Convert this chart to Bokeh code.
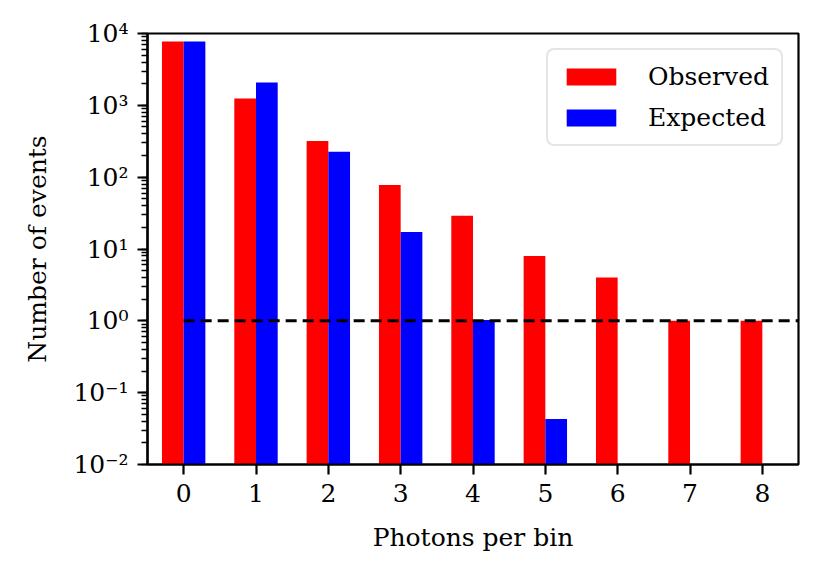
from bokeh.plotting import figure
from bokeh.models import Range1d, LogTicker, FixedTicker, Legend, LegendItem
from bokeh.embed import file_html
from bokeh.resources import INLINE

# ---- data ----
photons = [0, 1, 2, 3, 4, 5, 6, 7, 8]
observed = [7730, 1240, 318, 78, 29, 8, 4, 1, 1]
expected_photons = [0, 1, 2, 3, 4, 5]
expected = [7730, 2075, 226, 17.3, 1.03, 0.043]
threshold_x = [0, 9]
threshold_y = [1, 1]
y_ticks = [1e-2, 1e-1, 1, 10, 100, 1000, 10000]
y_tick_labels = ["10\u207b\u00b2", "10\u207b\u00b9", "10\u2070", "10\u00b9", "10\u00b2", "10\u00b3", "10\u2074"]
x_label = "Photons per bin"
y_label = "Number of events"

FONT = "DejaVu Serif"
FS = "25px"
BAR_W = 0.3

p = figure(width=823, height=563, y_axis_type="log",
           x_range=Range1d(-0.5, 8.5), y_range=Range1d(1e-2, 1e4),
           output_backend="svg", toolbar_location=None,
           min_border_left=147, min_border_right=25,
           min_border_top=33, min_border_bottom=99)

p.xgrid.visible = False
p.ygrid.visible = False
p.outline_line_color = "black"
p.outline_line_width = 2.2
p.outline_line_alpha = 1.0

obs_x = [x - BAR_W / 2 for x in photons]
exp_x = [x + BAR_W / 2 for x in expected_photons]
r_obs = p.vbar(x=obs_x, top=observed, bottom=1e-3, width=BAR_W,
               fill_color="#ff0000", line_color=None)
r_exp = p.vbar(x=exp_x, top=expected, bottom=1e-3, width=BAR_W,
               fill_color="#0000ff", line_color=None)

p.line(threshold_x, threshold_y, line_color="black", line_width=3, line_dash="11 6")

# axes
p.xaxis.ticker = FixedTicker(ticks=photons, minor_ticks=[])
p.yaxis.ticker = LogTicker(num_minor_ticks=10)
p.yaxis.major_label_overrides = {t: l for t, l in zip(y_ticks, y_tick_labels)}
for ax in (p.xaxis, p.yaxis):
    ax.axis_line_width = 2.2
    ax.axis_line_color = "black"
    ax.major_tick_line_color = "black"
    ax.minor_tick_line_color = "black"
    ax.major_tick_line_width = 2.2
    ax.minor_tick_line_width = 1.7
    ax.major_tick_out = 10
    ax.major_tick_in = 0
    ax.minor_tick_out = 6
    ax.minor_tick_in = 0
    ax.major_label_text_font = FONT
    ax.major_label_text_font_size = FS
    ax.major_label_text_color = "black"
    ax.axis_label_text_font = FONT
    ax.axis_label_text_font_size = FS
    ax.axis_label_text_font_style = "normal"
    ax.axis_label_text_color = "black"
    ax.major_label_standoff = 9

p.xaxis.axis_label = x_label
p.yaxis.axis_label = y_label
p.xaxis.axis_label_standoff = 18
p.yaxis.axis_label_standoff = 18

legend = Legend(items=[LegendItem(label="Observed", renderers=[r_obs]),
                       LegendItem(label="Expected", renderers=[r_exp])],
                location="top_right")
legend.margin = 15
legend.padding = 12
legend.spacing = 12
legend.glyph_width = 62
legend.glyph_height = 21
legend.label_standoff = 26
legend.label_text_font = FONT
legend.label_text_font_size = FS
legend.label_text_color = "black"
legend.border_line_color = "#cccccc"
legend.border_line_width = 2.5
legend.background_fill_alpha = 0.8
if "border_radius" in Legend.properties():
    legend.border_radius = 8
p.add_layout(legend, "center")

open("out.html", "w").write(file_html(p, INLINE))
